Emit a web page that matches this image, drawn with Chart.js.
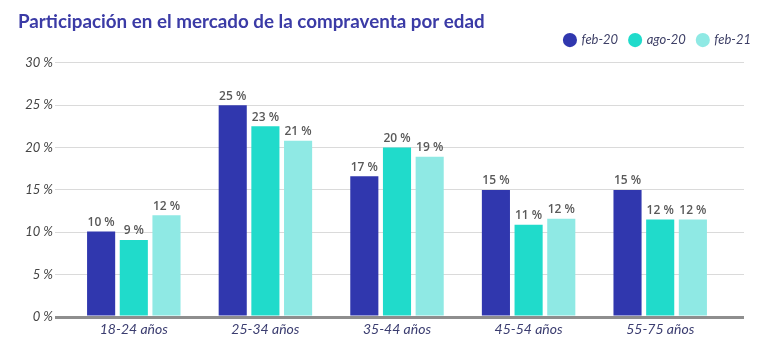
<!DOCTYPE html>
<html>
<head>
<meta charset="utf-8">
<script src="https://cdn.jsdelivr.net/npm/chart.js@4.4.1/dist/chart.umd.min.js"></script>
<style>
  html, body { margin: 0; padding: 0; background: #ffffff; }
  #wrap { width: 768px; height: 351px; position: relative; }
</style>
</head>
<body>
<div id="wrap"><canvas id="c" width="768" height="351"></canvas></div>
<script>
const TITLE = 'Participación en el mercado de la compraventa por edad';
const categories = ['18-24 años', '25-34 años', '35-44 años', '45-54 años', '55-75 años'];
const seriesNames = ['feb-20', 'ago-20', 'feb-21'];
const feb20 = [10.1, 25.0, 16.6, 15.0, 15.0];
const ago20 = [9.1, 22.5, 20.0, 10.9, 11.5];
const feb21 = [12.0, 20.8, 18.9, 11.6, 11.5];
const yTicks = [0, 5, 10, 15, 20, 25, 30];

const colors = ['#3037ae', '#20dbcb', '#8fe9e4'];
const GRID = '#dadada';
const BASE = '#8e8e8e';

const gridWidth = (c) => (c.tick && c.tick.value === 0 ? 3 : 1);
const gridColor = (c) => (c.tick && c.tick.value === 0 ? BASE : GRID);

const valueLabels = {
  id: 'valueLabels',
  afterDatasetsDraw(chart) {
    const ctx = chart.ctx;
    ctx.save();
    ctx.font = '600 12px "Open Sans"';
    ctx.fillStyle = '#595959';
    ctx.textAlign = 'center';
    ctx.textBaseline = 'bottom';
    chart.data.datasets.forEach((ds, i) => {
      const meta = chart.getDatasetMeta(i);
      meta.data.forEach((el, j) => {
        ctx.fillText(Math.round(ds.data[j]) + ' %', el.x, el.y - 3);
      });
    });
    ctx.restore();
  }
};

new Chart(document.getElementById('c'), {
  type: 'bar',
  data: {
    labels: categories,
    datasets: [
      { label: seriesNames[0], data: feb20, backgroundColor: colors[0] },
      { label: seriesNames[1], data: ago20, backgroundColor: colors[1] },
      { label: seriesNames[2], data: feb21, backgroundColor: colors[2] }
    ]
  },
  options: {
    responsive: false,
    animation: false,
    devicePixelRatio: 1,
    categoryPercentage: 0.745,
    barPercentage: 0.86,
    layout: { padding: { left: 18, right: 5, top: 0, bottom: 10 } },
    plugins: {
      title: {
        display: true,
        text: TITLE,
        align: 'start',
        color: '#3b3ba6',
        font: { family: 'Lato', size: 18.8, weight: '700' },
        padding: { top: 11, bottom: -12 }
      },
      subtitle: {
        display: true,
        text: '',
        weight: 500,
        font: { size: 1 },
        padding: { top: 5, bottom: 0 }
      },
      legend: {
        display: true,
        align: 'end',
        labels: {
          usePointStyle: true,
          pointStyle: 'circle',
          boxWidth: 10,
          boxHeight: 10,
          padding: 12,
          color: '#3d3f66',
          font: { family: 'Lato', size: 13, style: 'italic' }
        }
      },
      tooltip: { enabled: false }
    },
    scales: {
      x: {
        grid: { display: false, drawTicks: false },
        border: { display: false },
        ticks: {
          padding: 4,
          color: '#3b3d70',
          font: { family: 'Lato', size: 14, style: 'italic' }
        },
        afterFit(s) { s.height = 24; }
      },
      y: {
        min: 0, max: 30,
        afterBuildTicks(s) { s.ticks = yTicks.map(v => ({ value: v })); },
        grid: { color: gridColor, lineWidth: gridWidth, tickLength: 13 },
        border: { display: false },
        ticks: {
          padding: 2,
          color: '#444444',
          font: { family: 'Lato', size: 13, style: 'italic' },
          callback: (v) => v + ' %'
        },
        afterFit(s) { s.width = 50; }
      },
      y2: {
        position: 'right',
        min: 0, max: 30,
        afterBuildTicks(s) { s.ticks = yTicks.map(v => ({ value: v })); },
        grid: { color: gridColor, lineWidth: gridWidth, tickLength: 18, drawOnChartArea: false },
        border: { display: false },
        ticks: { display: false },
        afterFit(s) { s.width = 37; }
      }
    }
  },
  plugins: [valueLabels]
});
</script>
</body>
</html>
